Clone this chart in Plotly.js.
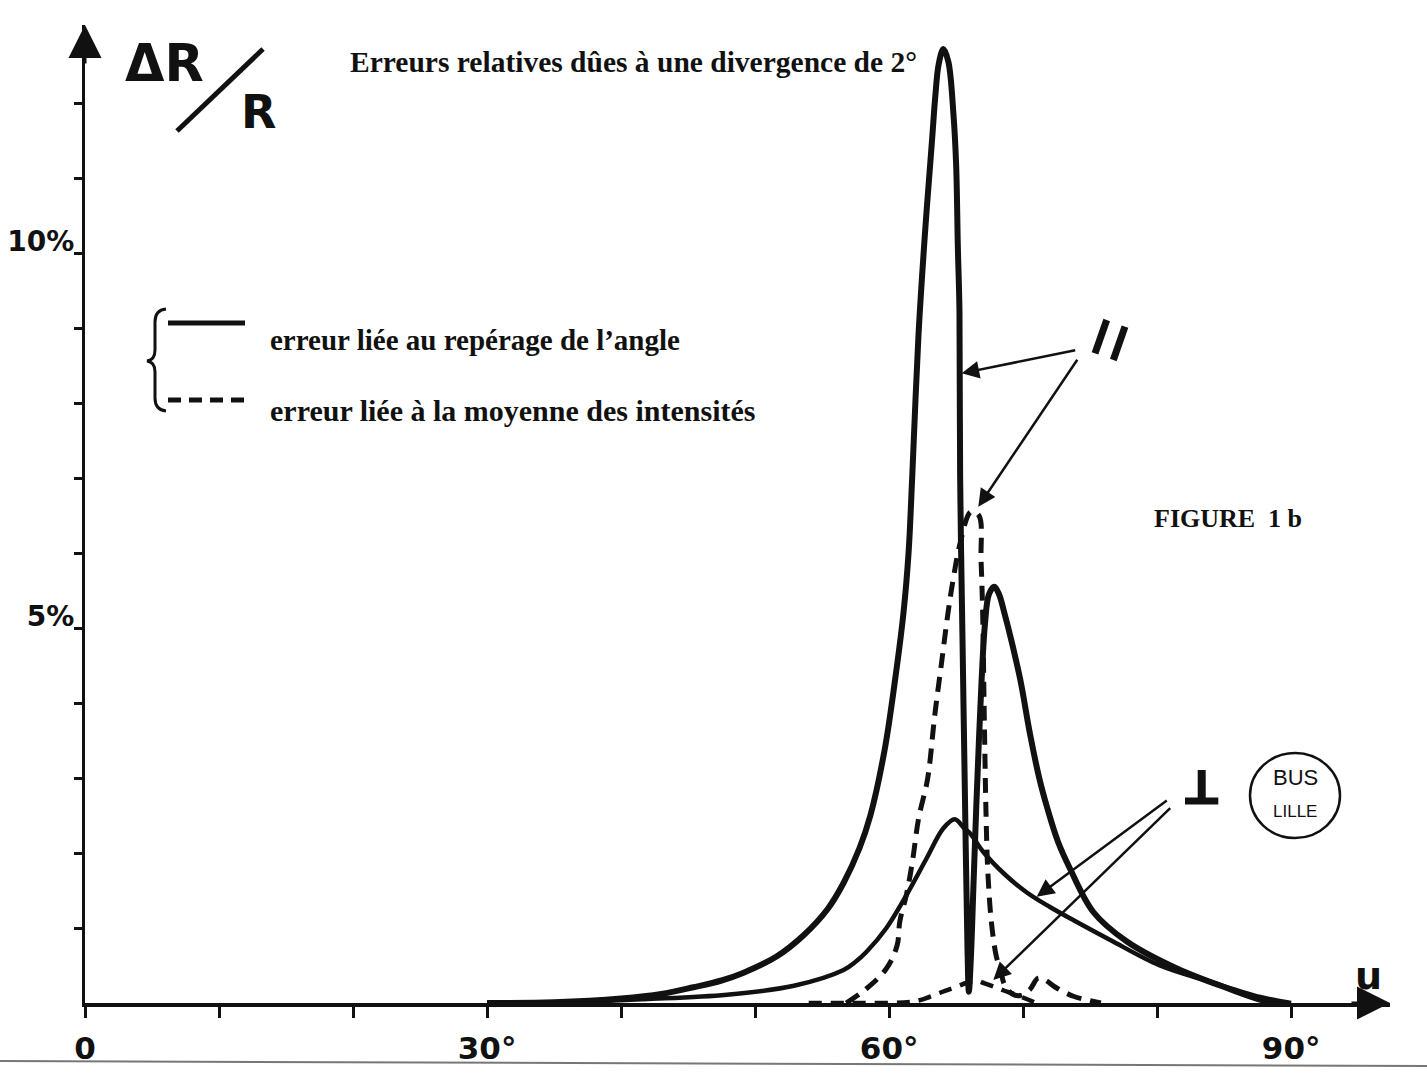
<!DOCTYPE html>
<html>
<head>
<meta charset="utf-8">
<script src="https://cdn.plot.ly/plotly-3.0.1.min.js"></script>
<style>html,body{margin:0;padding:0;background:#fff;}#chart{width:1427px;height:1076px;}</style>
</head>
<body>
<div id="chart"></div>
<script>
// ---- data (angle u in degrees, relative error in %) ----
const u_para_angle = [30, 35, 40, 43, 45.4, 47.5, 49.1, 51.6, 53.6, 55.4, 56.6, 57.8, 58.6, 59.66, 60.43, 61.07, 61.45, 61.72, 62.19, 62.69, 63.2, 63.45, 63.7, 64.05, 64.42, 64.8, 65.0, 65.13, 65.25, 65.3, 65.48, 65.68, 65.85, 65.95, 66.1, 66.3, 66.5, 66.7, 66.9, 67.15, 67.45, 67.85, 68.2, 68.6, 69.1, 69.8, 70.5, 71.2, 71.8, 72.6, 73.5, 75.25, 77.74, 81.47, 85.2, 88.2, 89.3];
const err_para_angle = [0, 0.01, 0.06, 0.12, 0.21, 0.3, 0.4, 0.62, 0.9, 1.25, 1.6, 2.07, 2.5, 3.37, 4.29, 5.2, 6.0, 7.0, 8.9, 10.3, 11.5, 12.1, 12.52, 12.72, 12.55, 11.85, 11.18, 10.07, 9.22, 7.0, 4.8, 2.5, 0.7, 0.15, 0.6, 1.6, 2.6, 3.5, 4.3, 5.05, 5.45, 5.55, 5.45, 5.2, 4.85, 4.3, 3.6, 3.0, 2.6, 2.15, 1.79, 1.21, 0.82, 0.46, 0.2, 0.02, 0];

const u_perp_angle = [30, 36, 41.7, 47.9, 52.9, 56.6, 57.5, 58.3, 59.8, 61.3, 62.8, 64.05, 64.9, 65.55, 66.1, 67.0, 68.6, 70.3, 72.0, 73.8, 76.5, 80.2, 84.0, 87.7, 90.0];
const err_perp_angle = [0, 0.01, 0.05, 0.11, 0.23, 0.44, 0.55, 0.68, 1.0, 1.44, 1.93, 2.33, 2.45, 2.34, 2.25, 2.02, 1.72, 1.47, 1.28, 1.1, 0.84, 0.5, 0.28, 0.08, 0];

const u_para_mean = [56.8, 58.3, 59.8, 60.6, 60.8, 61.3, 61.75, 62.2, 62.8, 63.0, 63.4, 63.9, 64.4, 64.8, 65.3, 66.1, 66.7, 66.86, 66.98, 67.1, 67.24, 67.36, 67.63, 68.0, 68.3, 68.6, 69.2, 69.8, 70.5, 71.1, 71.6, 72.5, 73.75, 75.0, 75.8];
const err_para_mean = [0, 0.19, 0.46, 0.77, 1.09, 1.45, 1.9, 2.46, 2.92, 3.15, 3.83, 4.52, 5.21, 5.67, 6.13, 6.55, 6.5, 5.9, 5.2, 3.83, 2.45, 1.77, 1.08, 0.62, 0.45, 0.25, 0.12, 0.1, 0.18, 0.33, 0.31, 0.2, 0.09, 0.03, 0];

const u_perp_mean = [54, 57, 61.8, 63.0, 64.0, 64.8, 65.8, 66.5, 67.0, 67.8, 68.5, 69.3, 70.3, 71.0];
const err_perp_mean = [0, 0, 0.02, 0.08, 0.15, 0.2, 0.27, 0.3, 0.27, 0.22, 0.17, 0.12, 0.05, 0];

const xTickVals = [0, 10, 20, 30, 40, 50, 60, 70, 80, 90];
const xTickText = ['0', '', '', '30°', '', '', '60°', '', '', '90°'];
const yTickVals = [1, 2, 3, 4, 5, 6, 7, 8, 9, 10, 11, 12];
const yTickText = ['', '', '', '', '5%', '', '', '', '', '10%', '', ''];

const titleText = 'Erreurs relatives dûes à une divergence de 2°';
const legendSolid = 'erreur liée au repérage de l’angle';
const legendDashed = 'erreur liée à la moyenne des intensités';
const figLabel = 'FIGURE&nbsp;&nbsp;1 b';

// ---- layout geometry ----
const W = 1427, H = 1076;
const L = 85, R = 37, T = 25, B = 73;
const PW = W - L - R, PH = H - T - B;
function px(x) { return (x - L) / PW; }
function py(y) { return (H - B - y) / PH; }
function pathOf(pts) {
  return pts.map(p => p[0] + ' ' + px(p[1]).toFixed(5) + ',' + py(p[2]).toFixed(5)).join(' ');
}

const black = '#111';
const traces = [
  {x: u_para_angle, y: err_para_angle, mode: 'lines', line: {color: black, width: 6, shape: 'spline', smoothing: 1.0}},
  {x: u_perp_angle, y: err_perp_angle, mode: 'lines', line: {color: black, width: 4.5, shape: 'spline', smoothing: 1.0}},
  {x: u_para_mean, y: err_para_mean, mode: 'lines', line: {color: black, width: 5, dash: '15px,9px', shape: 'spline', smoothing: 1.0}},
  {x: u_perp_mean, y: err_perp_mean, mode: 'lines', line: {color: black, width: 4.5, dash: '13px,9px', shape: 'spline', smoothing: 1.0}}
];

function lineShape(x0, y0, x1, y1, w, dash) {
  return {type: 'line', xref: 'paper', yref: 'paper', x0: px(x0), y0: py(y0), x1: px(x1), y1: py(y1),
    line: {color: black, width: w, dash: dash || 'solid'}};
}

const shapes = [
  lineShape(177, 131, 263, 49, 5),                  // slash of ΔR/R
  lineShape(168, 323, 245, 323, 5),                 // legend solid
  lineShape(168, 400, 245, 400, 5, '13px,8px'),     // legend dashed
  {type: 'path', xref: 'paper', yref: 'paper',
   path: pathOf([['M',166,309],['Q',155,310],['',155,322],['L',155,350],['Q',155,360],['',147,361],['Q',155,362],['',155,372],['L',155,398],['Q',155,410],['',166,411]]),
   line: {color: black, width: 3}},
  lineShape(1106.7, 320, 1095, 353.3, 7),           // "//" mark
  lineShape(1125, 326.7, 1113.3, 360, 7),
  lineShape(1201.7, 770, 1201.7, 802, 8),           // "⊥" mark
  lineShape(1185, 801, 1218.3, 801, 7),
  {type: 'circle', xref: 'paper', yref: 'paper', x0: px(1250), x1: px(1340), y0: py(838), y1: py(753),
   line: {color: black, width: 2.5}},
  lineShape(0, 1061, 1427, 1066, 2)                 // page edge
];
shapes[shapes.length - 1].line.color = '#777';

function arrow(hx, hy, tx, ty) {
  return {xref: 'paper', yref: 'paper', x: px(hx), y: py(hy), ax: tx - hx, ay: ty - hy,
    axref: 'pixel', ayref: 'pixel', text: '', showarrow: true, arrowhead: 2, arrowsize: 1.4,
    arrowwidth: 2.5, arrowcolor: black, standoff: 0};
}
function label(x, y, text, size, family, weight, xanchor) {
  return {xref: 'paper', yref: 'paper', x: px(x), y: py(y), text: text, showarrow: false,
    xanchor: xanchor || 'center', yanchor: 'middle',
    font: {family: family, size: size, color: black, weight: weight || 'normal'}};
}

const annotations = [
  arrow(961.7, 373.3, 1076.7, 350),
  arrow(978.3, 506.7, 1078.3, 358.3),
  arrow(1036.7, 896.7, 1168.3, 799.3),
  arrow(993.3, 980, 1171.7, 806.7),
  // axis arrowheads
  {xref: 'paper', yref: 'paper', x: 1, y: 0, ax: -40, ay: 0, axref: 'pixel', ayref: 'pixel', text: '',
   showarrow: true, arrowhead: 2, arrowsize: 2.2, arrowwidth: 3, arrowcolor: black, standoff: 0},
  {xref: 'paper', yref: 'paper', x: 0, y: 1, ax: 0, ay: 40, axref: 'pixel', ayref: 'pixel', text: '',
   showarrow: true, arrowhead: 2, arrowsize: 2.2, arrowwidth: 3, arrowcolor: black, standoff: 0},
  label(164, 64, 'ΔR', 51, 'DejaVu Sans', 'bold'),
  label(258, 112, 'R', 46, 'DejaVu Sans', 'bold'),
  label(268, 340, legendSolid, 29, 'Liberation Serif', 'bold', 'left'),
  label(268, 410, legendDashed, 30, 'Liberation Serif', 'bold', 'left'),
  label(1152, 518, figLabel, 26, 'Liberation Serif', 'bold', 'left'),
  label(1368, 976, 'u', 38, 'DejaVu Sans', 'bold'),
  label(1295, 777, 'BUS', 22, 'Liberation Sans', 'normal'),
  label(1295, 811, 'LILLE', 17, 'Liberation Sans', 'normal')
];

const layout = {
  width: W, height: H,
  margin: {l: L, r: R, t: T, b: B, pad: 0},
  paper_bgcolor: '#fff', plot_bgcolor: '#fff',
  showlegend: false,
  title: {text: titleText, xref: 'container', yref: 'container', x: 350 / W, xanchor: 'left',
          y: 1 - 62 / H, yanchor: 'middle',
          font: {family: 'Liberation Serif', size: 29.5, color: black, weight: 'bold'}},
  xaxis: {range: [0, PW / 13.402], showgrid: false, zeroline: false, showline: true, linecolor: black, linewidth: 4,
          ticks: 'outside', ticklen: 11, tickwidth: 3, tickcolor: black,
          tickvals: xTickVals, ticktext: xTickText, ticklabelstandoff: 4,
          tickfont: {family: 'DejaVu Sans', size: 31, color: black, weight: 'bold'}},
  yaxis: {range: [0, PH / 75], showgrid: false, zeroline: false, showline: true, linecolor: black, linewidth: 3,
          ticks: 'outside', ticklen: 8, tickwidth: 3, tickcolor: black,
          tickvals: yTickVals, ticktext: yTickText, ticklabelstandoff: -6, ticklabelshift: -12,
          tickfont: {family: 'DejaVu Sans', size: 28, color: black, weight: 'bold'}},
  shapes: shapes,
  annotations: annotations
};

Plotly.newPlot('chart', traces, layout, {displayModeBar: false, staticPlot: true});
</script>
</body>
</html>
